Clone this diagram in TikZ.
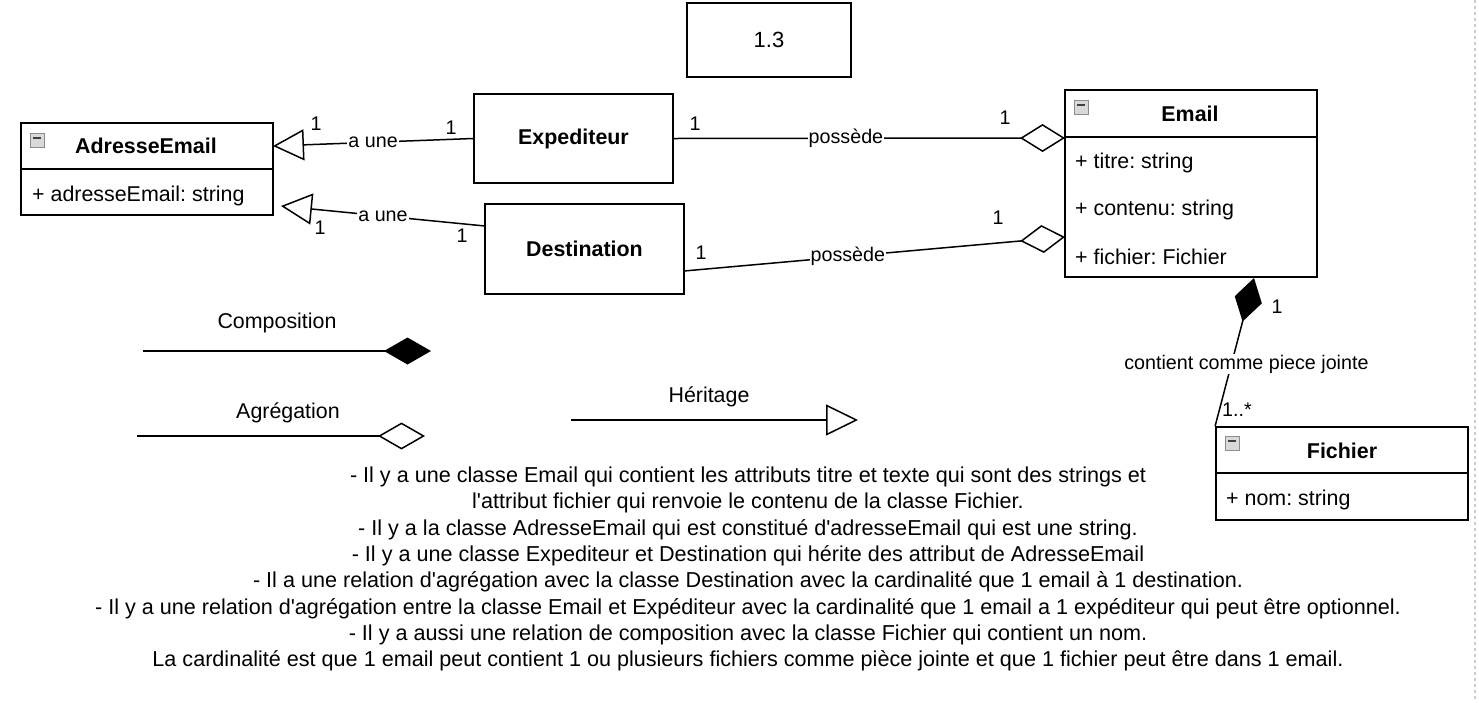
\documentclass[tikz,border=0pt]{standalone}
\usepackage{fontspec}
\setmainfont{Liberation Sans}[Ligatures=TeXOff]
\frenchspacing
\usetikzlibrary{arrows.meta,calc}

\begin{document}
\begin{tikzpicture}[x=1pt, y=-1pt, line join=miter,
    classbox/.style={draw, line width=1.8pt, inner sep=0pt},
    plainbox/.style={draw, line width=1.6pt, inner sep=0pt, font=\fontsize{21.4}{24}\selectfont\bfseries},
    clsname/.style={font=\fontsize{21.4}{24}\selectfont\bfseries, inner sep=0pt},
    attr/.style={font=\fontsize{21.4}{24}\selectfont, anchor=west, inner sep=0pt},
    lbl/.style={font=\fontsize{19.7}{22}\selectfont, inner sep=1pt},
    onlbl/.style={lbl, fill=white},
    icon/.style={draw=gray!90, fill=gray!30, line width=0.8pt, minimum size=14pt, inner sep=0pt,
      path picture={\draw[line width=1.6pt, black!75]
        ([xshift=3pt,yshift=2pt]path picture bounding box.west) -- ([xshift=-3pt,yshift=2pt]path picture bounding box.east);}},
    conn/.style={line width=1.5pt},
    inherit/.style={conn, -{Triangle[open, length=31pt, width=31pt]}},
    aggreg/.style={conn, -{Diamond[open, length=45pt, width=28pt]}},
    compos/.style={conn, -{Diamond[length=45pt, width=28pt]}}]
  \useasboundingbox (0,0) rectangle (1479,702);
  % page edge
  \draw[gray!40, line width=1.5pt, dash pattern=on 3pt off 3pt] (1475,0) -- (1475,702);
  % title box
  \node[plainbox, font=\fontsize{22}{24}\selectfont, minimum width=164pt, minimum height=74pt] (title) at (769,40) {1.3};
  % AdresseEmail
  \node[classbox, minimum width=252pt, minimum height=92pt] (adr) at (147,169) {};
  \draw[line width=1.8pt] (21,169) -- (273,169);
  \node[icon] (adrIcon) at (37,140) {};
  \node[clsname] (adrName) at (146,146) {AdresseEmail};
  \node[attr] (adrAttr) at (32,196) {+ adresseEmail: string};
  % Expediteur and Destination
  \node[plainbox, minimum width=199pt, minimum height=89pt] (exp) at (573.5,138.5) {Expediteur};
  \node[plainbox, minimum width=199pt, minimum height=90pt] (des) at (584.5,249) {Destination};
  % Email
  \node[classbox, minimum width=252pt, minimum height=187pt] (email) at (1191,183.5) {};
  \draw[line width=1.8pt] (1065,137) -- (1317,137);
  \node[icon] (emailIcon) at (1081,107) {};
  \node[clsname] (emailName) at (1190,114) {Email};
  \node[attr] (emailA1) at (1075,163) {+ titre: string};
  \node[attr] (emailA2) at (1075,210) {+ contenu: string};
  \node[attr] (emailA3) at (1075,257) {+ fichier: Fichier};
  % Fichier
  \node[classbox, minimum width=252pt, minimum height=93pt] (fic) at (1342,473.5) {};
  \draw[line width=1.8pt] (1216,473) -- (1468,473);
  \node[icon] (ficIcon) at (1232,443) {};
  \node[clsname] (ficName) at (1342,451) {Fichier};
  \node[attr] (ficAttr) at (1226,500) {+ nom: string};
  % connector ends
  \coordinate (adrA) at (273,146);
  \coordinate (adrB) at (281,206);
  \coordinate (desA) at (485,226);
  \coordinate (desB) at (684,271);
  \coordinate (emA) at (1065,138);
  \coordinate (emB) at (1065,237);
  \coordinate (emC) at (1254,278);
  % inheritance
  \draw[inherit] (exp.west) -- node[onlbl] {a une} (adrA);
  \draw[inherit] (desA) -- node[onlbl] {a une} (adrB);
  % aggregation
  \draw[aggreg] (exp.east) -- node[onlbl, pos=0.44] {possède} (emA);
  \draw[aggreg] (desB) -- node[onlbl, pos=0.43] {possède} (emB);
  % composition
  \draw[compos] (fic.north west) -- node[onlbl, pos=0.42, xshift=15pt] {contient comme piece jointe} (emC);
  % multiplicities
  \node[lbl] (m1) at (316,124) {1};
  \node[lbl] (m2) at (451,128) {1};
  \node[lbl] (m3) at (320,228) {1};
  \node[lbl] (m4) at (462,236) {1};
  \node[lbl] (m5) at (695,124) {1};
  \node[lbl] (m6) at (1005,118) {1};
  \node[lbl] (m7) at (701,253) {1};
  \node[lbl] (m8) at (998,218) {1};
  \node[lbl] (m9) at (1277,307) {1};
  \node[lbl] (m10) at (1237,410) {1..*};
  % legend
  \node[lbl, font=\fontsize{21.4}{24}\selectfont] (compT) at (277,323) {Composition};
  \coordinate (compA) at (143,351);
  \coordinate (compB) at (431,351);
  \draw[conn, -{Diamond[length=47pt, width=27pt]}] (compA) -- (compB);
  \node[lbl, font=\fontsize{21.4}{24}\selectfont] (aggT) at (288,413) {Agrégation};
  \coordinate (aggA) at (137,436);
  \coordinate (aggB) at (425,436);
  \draw[conn, -{Diamond[open, length=47pt, width=27pt]}] (aggA) -- (aggB);
  \node[lbl, font=\fontsize{21.4}{24}\selectfont] (herT) at (709,397) {Héritage};
  \coordinate (herA) at (571,420);
  \coordinate (herB) at (858,420);
  \draw[conn, -{Triangle[open, length=32pt, width=31pt]}] (herA) -- (herB);
  % description
  \node[align=center, inner sep=0pt, font=\fontsize{21.6}{26.3}\selectfont] (desc) at (748,569) {%
    - Il y a une classe Email qui contient les attributs titre et texte qui sont des strings et\\
    l'attribut fichier qui renvoie le contenu de la classe Fichier.\\
    - Il y a la classe AdresseEmail qui est constitué d'adresseEmail qui est une string.\\
    - Il y a une classe Expediteur et Destination qui hérite des attribut de AdresseEmail\\
    - Il a une relation d'agrégation avec la classe Destination avec la cardinalité que 1 email à 1 destination.\\
    - Il y a une relation d'agrégation entre la classe Email et Expéditeur avec la cardinalité que 1 email a 1 expéditeur qui peut être optionnel.\\
    - Il y a aussi une relation de composition avec la classe Fichier qui contient un nom.\\
    La cardinalité est que 1 email peut contient 1 ou plusieurs fichiers comme pièce jointe et que 1 fichier peut être dans 1 email.};
\end{tikzpicture}
\end{document}
